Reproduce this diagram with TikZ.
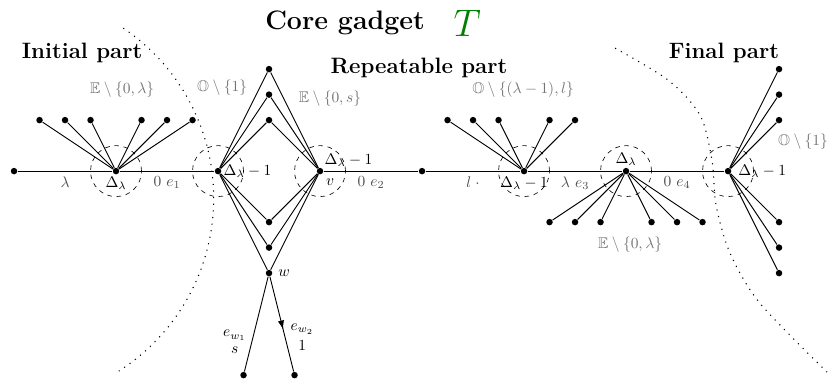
\documentclass[tikz,border=0pt]{standalone}
\usepackage{amssymb}
\usetikzlibrary{positioning, calc, arrows.meta, decorations.markings}

\begin{document}
\begin{tikzpicture}[
        x=0.58cm, y=0.58cm,
        semithick,
        vertex/.style={circle, fill, inner sep=0pt, minimum size=4.2pt},
        zone/.style={dashed, thin},
        border/.style={dash pattern=on 0.7pt off 3.6pt, line width=0.7pt},
        part/.style={font=\Large\bfseries},
        setlabel/.style={text=black!55},
        elabel/.style={below, text=black!70},
        vlabel/.style={inner sep=1pt},
        midarrow/.style={postaction={decorate}, decoration={markings,
            mark=at position 0.56 with {\arrow{Latex[length=6pt, width=4pt]}}}}
    ]
        \useasboundingbox (-4.55,-8.12) rectangle (27.92,6.71);

        % Nodes
        \node [vertex] (ls) at (-4,0) {};
        \node [vertex] (init) at (0,0) {};
        \node [vertex] (u) at (4,0) {};
        \node [vertex] (v) at (8,0) {};
        \node [vertex] (l) at (12,0) {};
        \node [vertex] (rm) at (16,0) {};
        \node [vertex] (rd) at (20,0) {};
        \node [vertex] (fin) at (24,0) {};

        \foreach \k in {2,3,4} \node [vertex] (t\k) at (6,\k) {};
        \node [vertex] (b2) at (6,-2) {};
        \node [vertex] (b3) at (6,-3) {};
        \node [vertex] (w) at (6,-4) {};
        \node [vertex] (w1) at (5,-8) {};
        \node [vertex] (w2) at (7,-8) {};

        % Dashed zones
        \foreach \n in {init,u,v,rm,rd,fin} \draw [zone] (\n) circle [radius=1];

        % Edges
        \draw (ls) -- node[elabel] {$\lambda$} (init);
        \draw (init) -- node[elabel] {$0$ $e_1$} (u);
        \draw (v) -- node[elabel] {$0$ $e_2$} (l);
        \draw (l) -- node[elabel] {$l\;\cdot$} (rm);
        \draw (rm) -- node[elabel] {$\lambda$ $e_3$} (rd);
        \draw (rd) -- node[elabel] {$0$ $e_4$} (fin);

        \foreach \n in {t2,t3,t4,b2,b3,w} \draw (u) -- (\n) -- (v);

        \draw (w) -- node[left, pos=0.69, align=center] {$e_{w_1}$\\[-1pt]$s$} (w1);
        \draw [midarrow] (w) -- node[right, pos=0.64, align=center] {$e_{w_2}$\\[1pt]$1$} (w2);

        \foreach \i in {-3,-2,-1,1,2,3} {
            \node [vertex] (ia\i) at (\i,2) {};
            \draw (init) -- (ia\i);
        }
        \foreach \i in {-3,-2,-1,1,2} {
            \node [vertex] (ra\i) at (\i+16,2) {};
            \draw (rm) -- (ra\i);
        }
        \foreach \i in {-3,-2,-1,1,2,3} {
            \node [vertex] (rb\i) at (\i+20,-2) {};
            \draw (rd) -- (rb\i);
        }
        \foreach \i in {-4,-3,-2,2,3,4} {
            \node [vertex] (fa\i) at (26,\i) {};
            \draw (fin) -- (fa\i);
        }

        % Vertex labels
        \node [vlabel, below=0pt of init] (initlab) {$\Delta_\lambda$};
        \node [vlabel, right=0pt of u] (ulab) {$\Delta_\lambda-1$};
        \node [vlabel, above right=0pt and 0pt of v] (vlab) {$\Delta_\lambda-1$};
        \node [vlabel, below right=2pt and 1pt of v] (vname) {$v$};
        \node [vlabel, below=0pt of rm] (rmlab) {$\Delta_\lambda-1$};
        \node [vlabel, above=0pt of rd] (rdlab) {$\Delta_\lambda$};
        \node [vlabel, right=3pt of fin] (finlab) {$\Delta_\lambda-1$};
        \node [right=0pt of w] (wname) {$w$};

        % Sets
        \node [setlabel] (set1) at (0.24,3.18) {$\mathbb{E}\setminus\{0,\lambda\}$};
        \node [setlabel] (set2) at (4.16,3.29) {$\mathbb{O}\setminus\{1\}$};
        \node [setlabel] (set3) at (8.39,2.86) {$\mathbb{E}\setminus\{0,s\}$};
        \node [setlabel] (set4) at (15.96,3.18) {$\mathbb{O}\setminus\{(\lambda-1),l\}$};
        \node [setlabel] (set5) at (20.16,-2.9) {$\mathbb{E}\setminus\{0,\lambda\}$};
        \node [setlabel] (set6) at (26.94,1.14) {$\mathbb{O}\setminus\{1\}$};

        % Titles
        \node [part] (initpart) at (-1.33,4.63) {Initial part};
        \node [part] (reppart) at (11.88,4.04) {Repeatable part};
        \node [part] (finpart) at (23.84,4.63) {Final part};
        \node [font=\LARGE\bfseries] (core) at (8.98,5.8) {Core gadget};
        \node [font=\Huge, text=green!50!black, right=0.4cm of core] (tname) {$T$};

        % Borders between parts
        \draw [border] (-4.21,-1.06) ++(56:8.04) arc [start angle=56, end angle=-57.5, radius=8.04];
        \draw [border] plot [smooth] coordinates {(19.57,4.82) (21.65,3.57) (22.9,2.2) (23.37,0.43)
            (23.53,-1.33) (24.08,-3.22) (25.25,-5.18) (27.88,-7.88)};

    \end{tikzpicture}
\end{document}
